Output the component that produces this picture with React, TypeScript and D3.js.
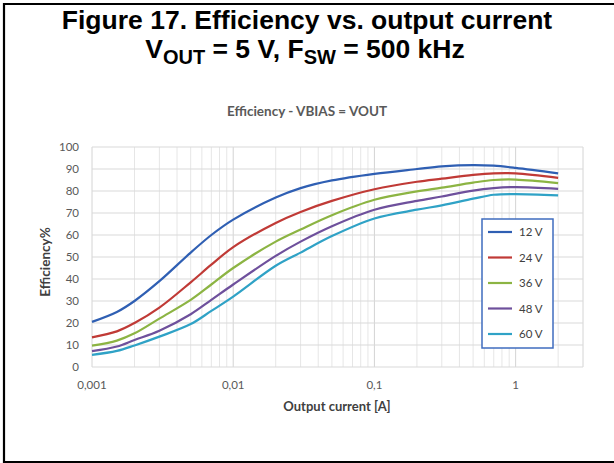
import { useEffect, useRef } from "react"
import * as d3 from "d3"

const currents = [0.001, 0.0015, 0.002, 0.003, 0.005, 0.007, 0.01, 0.02, 0.03, 0.05, 0.1, 0.2, 0.3, 0.5, 0.7, 1, 2]

const eff12 = [20.5, 25, 30, 39, 52, 60, 67, 77, 81.3, 84.8, 87.8, 90, 91.2, 91.8, 91.5, 90.5, 88]
const eff24 = [13.5, 16.2, 20, 27, 38.5, 46.5, 54.5, 65.5, 70.5, 75.5, 80.8, 84.2, 85.6, 87.3, 88, 88, 86]
const eff36 = [9.7, 12, 15.3, 22, 30.5, 37.5, 45, 57, 62.5, 69, 76, 79.8, 81.5, 83.8, 85, 85.2, 83.6]
const eff48 = [7.2, 9.3, 12.3, 16.5, 24, 30.5, 37.5, 50.5, 57, 64, 71.5, 75.5, 77.5, 80.2, 81.3, 81.8, 81]
const eff60 = [5.5, 7.3, 9.8, 13.8, 19.5, 25.5, 32, 46, 52, 59.5, 67.5, 71.5, 73.5, 76.5, 78.3, 78.6, 78]

const seriesNames = ["12 V", "24 V", "36 V", "48 V", "60 V"]
const seriesValues = [eff12, eff24, eff36, eff48, eff60]
const colors = ["#2f5fb3", "#c03a36", "#8cb443", "#6e509c", "#2fa2c6"]

const xTickLabels = ["0,001", "0,01", "0,1", "1"]
const xTickValues = [0.001, 0.01, 0.1, 1]

export default function App() {
  const svgRef = useRef<SVGSVGElement>(null)

  useEffect(() => {
    if (!svgRef.current) return
    const svg = d3.select(svgRef.current)
    svg.selectAll("*").remove()

    const W = 614
    const plot = { left: 92, right: 583, top: 147, bottom: 367 }

    // frame around the figure
    svg
      .append("path")
      .attr("d", `M${W + 2},4 H4 V462 H${W + 2}`)
      .attr("fill", "none")
      .attr("stroke", "#000")
      .attr("stroke-width", 2.2)

    // Title
    svg
      .append("text")
      .attr("x", 307)
      .attr("y", 29)
      .attr("text-anchor", "middle")
      .attr("font-family", "Liberation Sans, Arial, sans-serif")
      .attr("font-weight", "bold")
      .attr("font-size", 26.5)
      .attr("fill", "#000")
      .text("Figure 17. Efficiency vs. output current")

    const t2 = svg
      .append("text")
      .attr("x", 305)
      .attr("y", 58)
      .attr("text-anchor", "middle")
      .attr("font-family", "Liberation Sans, Arial, sans-serif")
      .attr("font-weight", "bold")
      .attr("font-size", 26.5)
      .attr("fill", "#000")
    t2.append("tspan").text("V")
    t2.append("tspan").attr("dy", 6).attr("font-size", 20).text("OUT")
    t2.append("tspan").attr("dy", -6).text(" = 5 V, F")
    t2.append("tspan").attr("dy", 6).attr("font-size", 20).text("SW")
    t2.append("tspan").attr("dy", -6).text(" = 500 kHz")

    // Subtitle
    svg
      .append("text")
      .attr("x", 307)
      .attr("y", 116)
      .attr("text-anchor", "middle")
      .attr("font-family", "Lato, Open Sans, sans-serif")
      .attr("font-weight", "bold")
      .attr("font-size", 13.5)
      .attr("fill", "#595959")
      .text("Efficiency - VBIAS = VOUT")

    const x = d3.scaleLog().domain([0.001, 3]).range([plot.left, plot.right])
    const y = d3.scaleLinear().domain([0, 100]).range([plot.bottom, plot.top])

    // Grid lines
    const grid = svg.append("g")
    grid
      .selectAll(".vgrid")
      .data(x.ticks())
      .enter()
      .append("line")
      .attr("x1", d => x(d))
      .attr("x2", d => x(d))
      .attr("y1", plot.top)
      .attr("y2", plot.bottom)
      .attr("stroke", d => (xTickValues.includes(d) ? "#d4d4d4" : "#e6e6e6"))
      .attr("stroke-width", 1)
    grid
      .append("line")
      .attr("x1", plot.right)
      .attr("x2", plot.right)
      .attr("y1", plot.top)
      .attr("y2", plot.bottom)
      .attr("stroke", "#e0e0e0")
    grid
      .selectAll(".hgrid")
      .data(y.ticks(10))
      .enter()
      .append("line")
      .attr("x1", plot.left)
      .attr("x2", plot.right)
      .attr("y1", d => y(d))
      .attr("y2", d => y(d))
      .attr("stroke", "#d9d9d9")
      .attr("stroke-width", 1.2)

    // Y tick labels
    svg
      .append("g")
      .selectAll("text")
      .data(y.ticks(10))
      .enter()
      .append("text")
      .attr("x", 79)
      .attr("y", d => y(d) + 4)
      .attr("text-anchor", "end")
      .attr("font-family", "Lato, Open Sans, sans-serif")
      .attr("font-size", 11.5)
      .attr("fill", "#595959")
      .text(d => String(d))

    // X tick labels
    svg
      .append("g")
      .selectAll("text")
      .data(xTickValues)
      .enter()
      .append("text")
      .attr("x", d => x(d))
      .attr("y", 389)
      .attr("text-anchor", "middle")
      .attr("font-family", "Lato, Open Sans, sans-serif")
      .attr("font-size", 11.5)
      .attr("fill", "#595959")
      .text((_, i) => xTickLabels[i])

    // Axis titles
    svg
      .append("text")
      .attr("x", 337)
      .attr("y", 411)
      .attr("text-anchor", "middle")
      .attr("font-family", "Lato, Open Sans, sans-serif")
      .attr("font-weight", "bold")
      .attr("font-size", 13)
      .attr("fill", "#404040")
      .text("Output current [A]")

    svg
      .append("text")
      .attr("transform", `translate(50,262) rotate(-90)`)
      .attr("text-anchor", "middle")
      .attr("font-family", "Lato, Open Sans, sans-serif")
      .attr("font-weight", "bold")
      .attr("font-size", 13.5)
      .attr("fill", "#404040")
      .text("Efficiency%")

    // Lines
    const line = d3
      .line<number>()
      .x((_, i) => x(currents[i]))
      .y(d => y(d))
      .curve(d3.curveCatmullRom.alpha(0.5))

    seriesValues.forEach((vals, k) => {
      svg
        .append("path")
        .datum(vals)
        .attr("fill", "none")
        .attr("stroke", colors[k])
        .attr("stroke-width", 2.2)
        .attr("d", line)
    })

    // Legend
    const lg = svg.append("g")
    lg.append("rect")
      .attr("x", 482)
      .attr("y", 219)
      .attr("width", 71)
      .attr("height", 129)
      .attr("fill", "#fff")
      .attr("stroke", "#3f6cbf")
      .attr("stroke-width", 1.5)
    seriesNames.forEach((name, k) => {
      const cy = 232 + k * 25.5
      lg.append("line")
        .attr("x1", 488)
        .attr("x2", 512)
        .attr("y1", cy)
        .attr("y2", cy)
        .attr("stroke", colors[k])
        .attr("stroke-width", 2.2)
      lg.append("text")
        .attr("x", 519)
        .attr("y", cy + 4)
        .attr("font-family", "Lato, Open Sans, sans-serif")
        .attr("font-size", 11.5)
        .attr("fill", "#404040")
        .text(name)
    })
  }, [])

  return (
    <svg
      ref={svgRef}
      width={614}
      height={463}
      style={{ position: "absolute", left: 0, top: 0, background: "#fff" }}
    />
  )
}
